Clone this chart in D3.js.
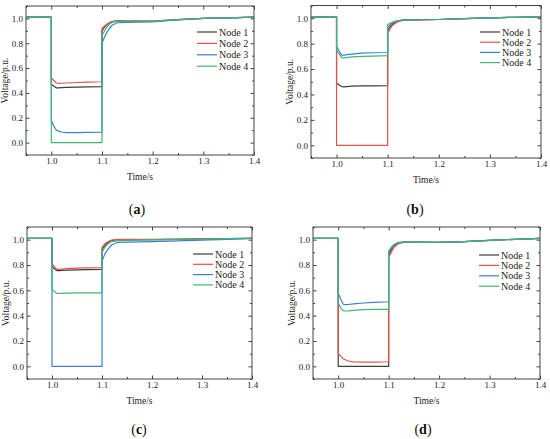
<!DOCTYPE html>
<html>
<head>
<meta charset="utf-8">
<script src="https://cdn.jsdelivr.net/npm/d3@7"></script>
<style>
  body { margin: 0; background: #fff; }
  svg { display: block; }
</style>
</head>
<body>
<script>
// time samples shared by every panel (1.0 and 1.1 appear twice for the steps)
var timeS = [0.95, 1.0, 1.0, 1.005, 1.01, 1.015, 1.02, 1.03, 1.05, 1.07, 1.1,
             1.1, 1.105, 1.11, 1.115, 1.12, 1.13, 1.15, 1.2, 1.25, 1.3, 1.35, 1.4];

var nodeNames = ["Node 1", "Node 2", "Node 3", "Node 4"];
var nodeColors = ["#3d3d3d", "#e8504a", "#3b7fd4", "#3cb878"];
var panelLetters = ["a", "b", "c", "d"];

var xMajor = [1.0, 1.1, 1.2, 1.3, 1.4];
var xMinor = [0.95, 1.05, 1.15, 1.25, 1.35];
var yMajor = [0.0, 0.2, 0.4, 0.6, 0.8, 1.0];
var yMinor = [-0.1, 0.1, 0.3, 0.5, 0.7, 0.9, 1.1];

// (a)
var aNode1 = [1.01, 1.01, 0.47, 0.455, 0.44, 0.44, 0.442, 0.445, 0.447, 0.448, 0.45,
              0.90, 0.93, 0.95, 0.965, 0.975, 0.98, 0.978, 0.978, 0.99, 1.0, 1.005, 1.01];
var aNode2 = [1.01, 1.01, 0.52, 0.50, 0.48, 0.477, 0.478, 0.48, 0.484, 0.487, 0.49,
              0.92, 0.94, 0.955, 0.967, 0.975, 0.98, 0.978, 0.978, 0.99, 1.0, 1.005, 1.01];
var aNode3 = [1.01, 1.01, 0.18, 0.13, 0.10, 0.09, 0.085, 0.08, 0.08, 0.082, 0.085,
              0.80, 0.85, 0.89, 0.92, 0.945, 0.965, 0.968, 0.972, 0.988, 1.0, 1.005, 1.01];
var aNode4 = [1.01, 1.01, 0, 0, 0, 0, 0, 0, 0, 0, 0,
              0.86, 0.90, 0.93, 0.955, 0.968, 0.977, 0.976, 0.976, 0.99, 1.0, 1.005, 1.01];

// (b)
var bNode1 = [1.01, 1.01, 0.49, 0.475, 0.462, 0.46, 0.462, 0.465, 0.467, 0.468, 0.47,
              0.90, 0.935, 0.955, 0.968, 0.978, 0.985, 0.987, 0.99, 0.997, 1.003, 1.007, 1.01];
var bNode2 = [1.01, 1.01, 0, 0, 0, 0, 0, 0, 0, 0, 0,
              0.88, 0.92, 0.945, 0.96, 0.972, 0.982, 0.985, 0.99, 0.997, 1.003, 1.007, 1.01];
var bNode3 = [1.01, 1.01, 0.78, 0.74, 0.71, 0.71, 0.713, 0.718, 0.725, 0.728, 0.73,
              0.93, 0.95, 0.965, 0.975, 0.98, 0.987, 0.988, 0.99, 0.997, 1.003, 1.007, 1.01];
var bNode4 = [1.01, 1.01, 0.75, 0.72, 0.69, 0.688, 0.69, 0.695, 0.70, 0.702, 0.705,
              0.95, 0.96, 0.97, 0.975, 0.98, 0.987, 0.988, 0.99, 0.997, 1.003, 1.007, 1.01];

// (c)
var cNode1 = [1.01, 1.01, 0.79, 0.77, 0.755, 0.755, 0.757, 0.76, 0.762, 0.764, 0.765,
              0.92, 0.95, 0.97, 0.985, 0.993, 1.0, 1.0, 1.0, 1.003, 1.006, 1.008, 1.01];
var cNode2 = [1.01, 1.01, 0.81, 0.785, 0.765, 0.765, 0.768, 0.772, 0.776, 0.778, 0.78,
              0.94, 0.965, 0.98, 0.99, 0.997, 1.002, 1.002, 1.002, 1.004, 1.006, 1.008, 1.01];
var cNode3 = [1.01, 1.01, 0, 0, 0, 0, 0, 0, 0, 0, 0,
              0.83, 0.88, 0.915, 0.94, 0.96, 0.978, 0.98, 0.985, 0.99, 0.997, 1.003, 1.01];
var cNode4 = [1.01, 1.01, 0.61, 0.59, 0.575, 0.575, 0.576, 0.578, 0.58, 0.58, 0.58,
              0.90, 0.935, 0.96, 0.975, 0.985, 0.993, 0.995, 0.998, 1.002, 1.005, 1.008, 1.01];

// (d)
var dNode1 = [1.01, 1.01, 0, 0, 0, 0, 0, 0, 0, 0, 0,
              0.87, 0.92, 0.95, 0.965, 0.975, 0.98, 0.98, 0.978, 0.985, 0.995, 1.003, 1.01];
var dNode2 = [1.01, 1.01, 0.10, 0.08, 0.06, 0.05, 0.042, 0.035, 0.033, 0.034, 0.036,
              0.86, 0.90, 0.935, 0.955, 0.97, 0.978, 0.978, 0.978, 0.985, 0.995, 1.003, 1.01];
var dNode3 = [1.01, 1.01, 0.58, 0.53, 0.49, 0.487, 0.488, 0.493, 0.50, 0.505, 0.51,
              0.90, 0.93, 0.955, 0.97, 0.977, 0.98, 0.98, 0.978, 0.985, 0.995, 1.003, 1.01];
var dNode4 = [1.01, 1.01, 0.50, 0.46, 0.44, 0.437, 0.438, 0.442, 0.447, 0.449, 0.45,
              0.91, 0.94, 0.96, 0.972, 0.978, 0.98, 0.98, 0.978, 0.985, 0.995, 1.003, 1.01];

var panelSeries = [
    [aNode1, aNode2, aNode3, aNode4],
    [bNode1, bNode2, bNode3, bNode4],
    [cNode1, cNode2, cNode3, cNode4],
    [dNode1, dNode2, dNode3, dNode4]
];

// frame of each panel in page pixels, plus legend placement
var frames = [
    {l: 26,  r: 254, t: 6,   b: 155, legX: 197, legY: 32,  legDy: 11.4, capX: 137, capY: 214},
    {l: 311, r: 541, t: 5.5, b: 158, legX: 480, legY: 32,  legDy: 10.2, capX: 415, capY: 214},
    {l: 27,  r: 252, t: 227, b: 379, legX: 193, legY: 254, legDy: 10.3, capX: 139, capY: 434},
    {l: 313, r: 540, t: 227, b: 379, legX: 479, legY: 255, legDy: 10.4, capX: 423, capY: 434}
];

var serif = "'Liberation Serif', 'Times New Roman', Times, serif";

var svg = d3.select("body").append("svg")
    .attr("width", 550)
    .attr("height", 439)
    .attr("font-family", serif);

var fmt = d3.format(".1f");

frames.forEach(function (f, pi) {
    var x = d3.scaleLinear().domain([0.95, 1.4]).range([f.l, f.r]);
    var y = d3.scaleLinear().domain([-0.1, 1.1]).range([f.b, f.t]);
    var g = svg.append("g");

    // series, node 4 last so it sits on top
    var line = d3.line()
        .x(function (d) { return x(d[0]); })
        .y(function (d) { return y(d[1]); });

    panelSeries[pi].forEach(function (vals, ni) {
        var pts = timeS.map(function (t, i) { return [t, vals[i]]; });
        g.append("path")
            .datum(pts)
            .attr("fill", "none")
            .attr("stroke", nodeColors[ni])
            .attr("stroke-width", 1.2)
            .attr("stroke-linejoin", "round")
            .attr("d", line);
    });

    // axes with inward ticks, major + minor on all sides
    var axes = [
        {ax: d3.axisBottom(x), tr: "translate(0," + f.b + ")", maj: xMajor, min: xMinor, lab: true},
        {ax: d3.axisTop(x), tr: "translate(0," + f.t + ")", maj: xMajor, min: xMinor, lab: false},
        {ax: d3.axisLeft(y), tr: "translate(" + f.l + ",0)", maj: yMajor, min: yMinor, lab: true},
        {ax: d3.axisRight(y), tr: "translate(" + f.r + ",0)", maj: yMajor, min: yMinor, lab: false}
    ];
    axes.forEach(function (a) {
        var gMin = g.append("g").attr("transform", a.tr)
            .call(a.ax.tickValues(a.min).tickSize(-2).tickFormat(""));
        gMin.select(".domain").remove();
        var gMaj = g.append("g").attr("transform", a.tr)
            .call(a.ax.tickValues(a.maj).tickSize(-3.5).tickPadding(3)
                .tickFormat(a.lab ? fmt : ""));
        gMaj.select(".domain").remove();
        gMin.attr("font-family", serif);
        gMaj.attr("font-family", serif).attr("font-size", 9);
        g.selectAll(".tick line").attr("stroke", "#444");
        gMaj.selectAll("text").attr("fill", "#222");
    });

    // frame
    g.append("rect")
        .attr("x", f.l).attr("y", f.t)
        .attr("width", f.r - f.l).attr("height", f.b - f.t)
        .attr("fill", "none")
        .attr("stroke", "#444")
        .attr("stroke-width", 1);

    // axis titles
    g.append("text")
        .attr("x", (f.l + f.r) / 2)
        .attr("y", f.b + 25)
        .attr("text-anchor", "middle")
        .attr("font-size", 9.5)
        .attr("fill", "#222")
        .text("Time/s");

    g.append("text")
        .attr("transform", "translate(" + (f.l - 18) + "," + ((f.t + f.b) / 2) + ") rotate(-90)")
        .attr("text-anchor", "middle")
        .attr("font-size", 9.5)
        .attr("fill", "#222")
        .text("Voltage/p.u.");

    // legend
    nodeNames.forEach(function (name, ni) {
        var ly = f.legY + ni * f.legDy;
        g.append("line")
            .attr("x1", f.legX).attr("x2", f.legX + 20)
            .attr("y1", ly).attr("y2", ly)
            .attr("stroke", nodeColors[ni])
            .attr("stroke-width", 1.2);
        g.append("text")
            .attr("x", f.legX + 22)
            .attr("y", ly + 3.5)
            .attr("font-size", 10)
            .attr("fill", "#222")
            .text(name);
    });

    // panel caption
    var cap = g.append("text")
        .attr("x", f.capX)
        .attr("y", f.capY)
        .attr("text-anchor", "middle")
        .attr("font-size", 14)
        .attr("fill", "#111");
    cap.append("tspan").text("(");
    cap.append("tspan").attr("font-weight", "bold").text(panelLetters[pi]);
    cap.append("tspan").text(")");
});
</script>
</body>
</html>
